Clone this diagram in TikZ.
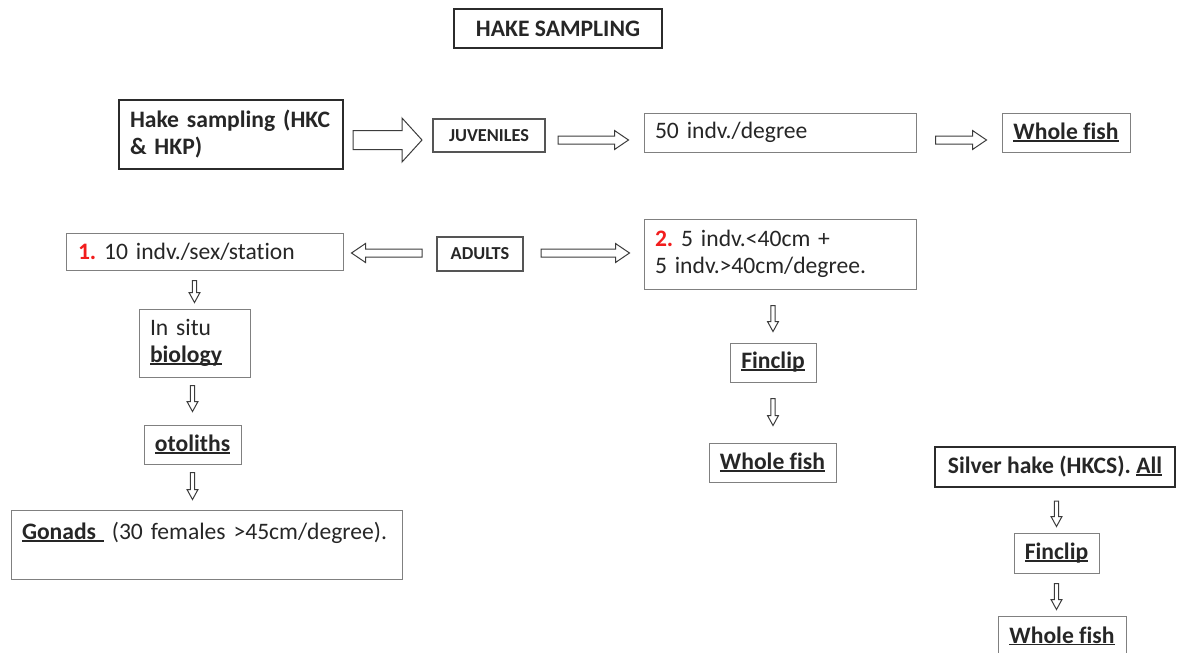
\documentclass[tikz,border=0pt]{standalone}
\usepackage{fontspec}
\setmainfont{Carlito}[Ligatures=NoCommon]
\usepackage{xcolor}
\usepackage{tikz}
\usetikzlibrary{calc}
\frenchspacing

\definecolor{inkgrey}{HTML}{262626}
\definecolor{framegrey}{HTML}{808080}
\definecolor{darkframe}{HTML}{2B2B2B}
\definecolor{tagframe}{HTML}{555555}
\definecolor{arrowgrey}{HTML}{3C3C3C}
\definecolor{numred}{HTML}{F21D1D}

% underline that cuts through the descenders
\newcommand\uword[1]{\setbox0\hbox{#1}\rlap{\rule[-0.1em]{\wd0}{0.08em}}\box0}
\newcommand\num[1]{{\color{numred}\bfseries #1}}

\tikzset{
  box/.style={draw=framegrey, line width=1pt, text=inkgrey, inner sep=0pt,
    font=\fontsize{23.6}{27}\selectfont},
  heavy/.style={box, draw=darkframe, line width=2pt},
  tag/.style={box, draw=tagframe, line width=2pt, font=\fontsize{18.3}{21}\selectfont\bfseries},
  lbox/.style={inner xsep=11pt, align=left, text width=#1},
  from gap/.store in=\fromgap, from gap=0pt,
  to gap/.store in=\togap, to gap=0pt,
  hollow/.style n args={3}{draw=arrowgrey, line width=1pt, fill=white,
    to path={let \p1=($(\tikztostart)!\fromgap!(\tikztotarget)$),
                 \p2=($(\tikztotarget)!\togap!(\tikztostart)$),
                 \p3=($(\p2)!#3!(\p1)$) in
      ($(\p1)!#1!90:(\p2)$) -- ($(\p3)!#1!90:(\p2)$) -- ($(\p3)!#2!90:(\p2)$) -- (\p2)
      -- ($(\p3)!#2!-90:(\p2)$) -- ($(\p3)!#1!-90:(\p2)$) -- ($(\p1)!#1!-90:(\p2)$) -- cycle}},
  bigarrow/.style={hollow={9.5pt}{22pt}{20pt}},
  flatarrow/.style={hollow={4pt}{9.5pt}{14pt}},
  downarrow/.style={hollow={2.2pt}{5.5pt}{10pt}},
}

\begin{document}
\begin{tikzpicture}[x=1pt,y=-1pt]
\useasboundingbox (0,0) rectangle (1178,653);
\coordinate (row1) at (0,140);
\coordinate (row2) at (0,253);

\node [heavy,minimum width=208pt,minimum height=39pt,font=\fontsize{23.6}{27}\selectfont\bfseries] (title) at (558,28.5) {HAKE SAMPLING};

\node [heavy,lbox=202pt,minimum height=69pt,font=\fontsize{23.6}{27}\selectfont\bfseries] (hks) at (231,134.5) {Hake sampling (HKC\\\& HKP)};
\node [tag,minimum width=112pt,minimum height=33pt] (juv) at (489,135.5) {JUVENILES};
\node [box,lbox=250pt,minimum height=39pt] (juvn) at (780,132.5) {50 indv./degree};
\node [box,minimum width=128pt,minimum height=39pt] (juvfish) at (1066,132.5) {\bfseries\uword{Whole fish}};

\node [box,lbox=253pt,inner xsep=12pt,minimum height=37pt] (ad1) at (204.5,251.5) {\num{1.} 10 indv./sex/station};
\node [tag,minimum width=86pt,minimum height=34pt] (adults) at (480,254) {ADULTS};
\node [box,lbox=250pt,minimum height=70pt] (ad2) at (780,254) {\num{2.} 5 indv.<40cm +\\5 indv.>40cm/degree.};

\node [box,lbox=89pt,minimum height=68pt] (situ) at (194.5,343) {In situ\\\textbf{\uword{biology}}};
\node [box,minimum width=97pt,minimum height=39pt] (oto) at (192.5,444.5) {\bfseries\uword{otoliths}};
\node [box,lbox=369pt,minimum height=69pt] (gonads) at (206.5,544.5) {\textbf{\uword{Gonads }} (30 females >45cm/degree).\\\mbox{}};

\node [box,minimum width=86pt,minimum height=39pt] (fin1) at (773,362.5) {\bfseries\uword{Finclip}};
\node [box,minimum width=127pt,minimum height=39pt] (fish1) at (772.5,462.5) {\bfseries\uword{Whole fish}};

\node [heavy,minimum width=240pt,minimum height=40pt] (silver) at (1055,467) {\bfseries Silver hake (HKCS). \uword{All}};
\node [box,minimum width=85pt,minimum height=40pt] (fin2) at (1056.5,553) {\bfseries\uword{Finclip}};
\node [box,minimum width=128pt,minimum height=40pt] (fish2) at (1062,636) {\bfseries\uword{Whole fish}};

\draw [bigarrow,from gap=9pt,to gap=10pt] (hks.east |- row1) to (juv.west |- row1);
\draw [flatarrow,from gap=12pt,to gap=15pt] (juv.east |- row1) to (juvn.west |- row1);
\draw [flatarrow,from gap=19pt,to gap=15pt] (juvn.east |- row1) to (juvfish.west |- row1);

\draw [flatarrow,from gap=14pt,to gap=8pt] (adults.west |- row2) to (ad1.east |- row2);
\draw [flatarrow,from gap=17pt,to gap=14pt] (adults.east |- row2) to (ad2.west |- row2);

\draw [downarrow,from gap=10pt,to gap=6pt] (situ.north |- ad1.south) to (situ.north);
\draw [downarrow,from gap=8pt,to gap=13pt] (oto.north |- situ.south) to (oto.north);
\draw [downarrow,from gap=8pt,to gap=10pt] (oto.south) to (oto.south |- gonads.north);

\draw [downarrow,from gap=16pt,to gap=11pt] (fin1.north |- ad2.south) to (fin1.north);
\draw [downarrow,from gap=16pt,to gap=17pt] (fin1.south) to (fin1.south |- fish1.north);

\draw [downarrow,from gap=13pt,to gap=6pt] (fin2.north |- silver.south) to (fin2.north);
\draw [downarrow,from gap=10pt,to gap=6pt] (fin2.south) to (fin2.south |- fish2.north);
\end{tikzpicture}
\end{document}
